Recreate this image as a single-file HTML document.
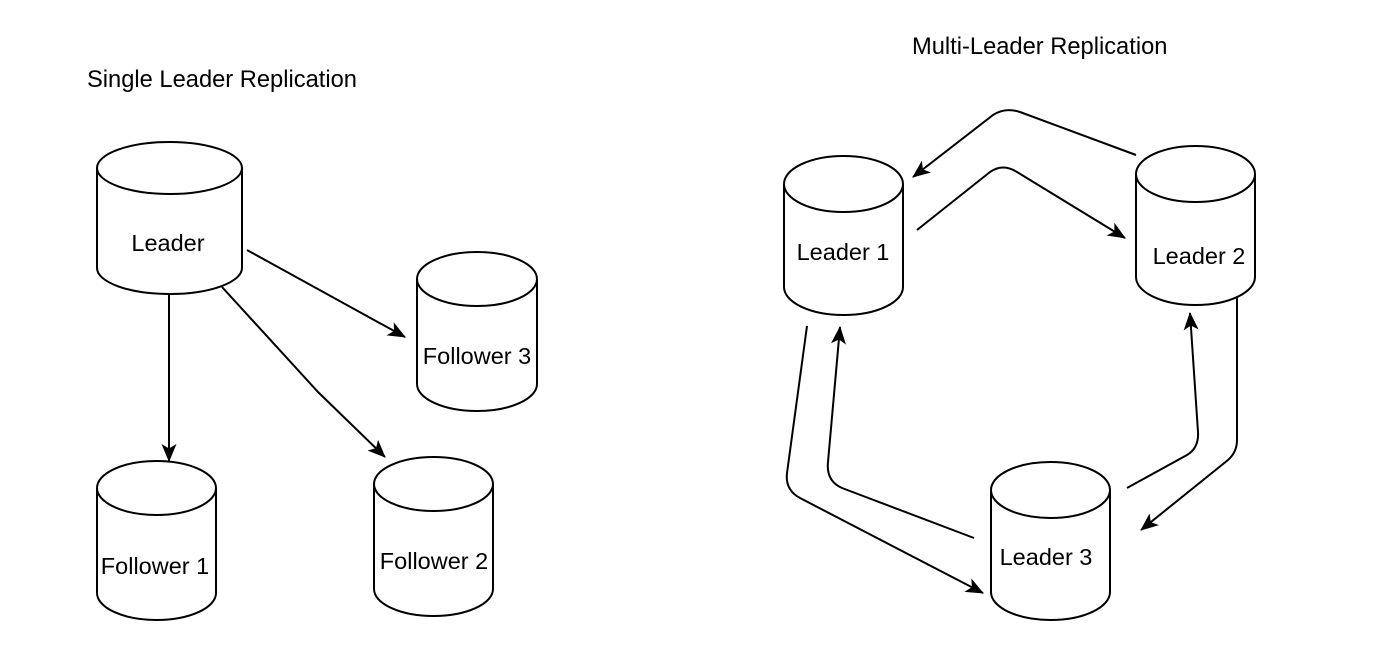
<!DOCTYPE html>
<html><head><meta charset="utf-8"><style>
html,body{margin:0;padding:0;background:#fff;}
svg{display:block}
text{font-family:"Liberation Sans",Arial,sans-serif;fill:#000}
</style></head><body>
<svg width="1400" height="663" viewBox="0 0 1400 663" xmlns="http://www.w3.org/2000/svg">
<defs>
<marker id="a" viewBox="0 0 18 15" refX="17" refY="7.5" markerWidth="18" markerHeight="15" markerUnits="userSpaceOnUse" orient="auto">
<path d="M0,0 L18,7.5 L0,15 L4.5,7.5 Z" fill="#000"/>
</marker>
</defs>
<text x="87" y="87" font-size="23.7">Single Leader Replication</text>
<text x="912" y="54" font-size="23.7">Multi-Leader Replication</text>

<g fill="#fff" stroke="#000" stroke-width="2">
<path d="M97,168 A72.5,26 0 0 1 242,168 L242,268 A72.5,26 0 0 1 97,268 Z"/>
<path d="M97,168 A72.5,26 0 0 0 242,168" fill="none"/>
<path d="M97,488 A59.5,27 0 0 1 216,488 L216,593 A59.5,27 0 0 1 97,593 Z"/>
<path d="M97,488 A59.5,27 0 0 0 216,488" fill="none"/>
<path d="M374,484 A59.5,27 0 0 1 493,484 L493,589 A59.5,27 0 0 1 374,589 Z"/>
<path d="M374,484 A59.5,27 0 0 0 493,484" fill="none"/>
<path d="M417,279 A60,27 0 0 1 537,279 L537,384 A60,27 0 0 1 417,384 Z"/>
<path d="M417,279 A60,27 0 0 0 537,279" fill="none"/>
<path d="M784,184 A59.5,28 0 0 1 903,184 L903,287 A59.5,28 0 0 1 784,287 Z"/>
<path d="M784,184 A59.5,28 0 0 0 903,184" fill="none"/>
<path d="M1136,174 A59.5,28 0 0 1 1255,174 L1255,277 A59.5,28 0 0 1 1136,277 Z"/>
<path d="M1136,174 A59.5,28 0 0 0 1255,174" fill="none"/>
<path d="M991,490 A59.5,28 0 0 1 1110,490 L1110,592 A59.5,28 0 0 1 991,592 Z"/>
<path d="M991,490 A59.5,28 0 0 0 1110,490" fill="none"/>
</g>

<g font-size="23.5" text-anchor="middle">
<text x="168" y="251">Leader</text>
<text x="155" y="574">Follower 1</text>
<text x="434" y="569">Follower 2</text>
<text x="477" y="364">Follower 3</text>
<text x="843" y="260">Leader 1</text>
<text x="1199" y="264">Leader 2</text>
<text x="1046" y="565">Leader 3</text>
</g>

<g fill="none" stroke="#000" stroke-width="2" marker-end="url(#a)">
<path d="M169,294 L169,461"/>
<path d="M222,287 L318,392 L385,457"/>
<path d="M247,250 L405,337"/>
<path d="M1136,155 L1020,112 Q1005,107 993,115 L913,177"/>
<path d="M917,230 L990,172 Q1003,163 1017,172 L1125,238"/>
<path d="M807,326 L787,473 Q785,490 800,498 L983,593"/>
<path d="M974,538 L842,488 Q826,481 828,462 L840,327"/>
<path d="M1237,298 L1237,440 Q1237,452 1228,460 L1141,530"/>
<path d="M1127,488 L1187,455 Q1199,448 1198,432 L1190,313"/>
</g>
</svg>
</body></html>
